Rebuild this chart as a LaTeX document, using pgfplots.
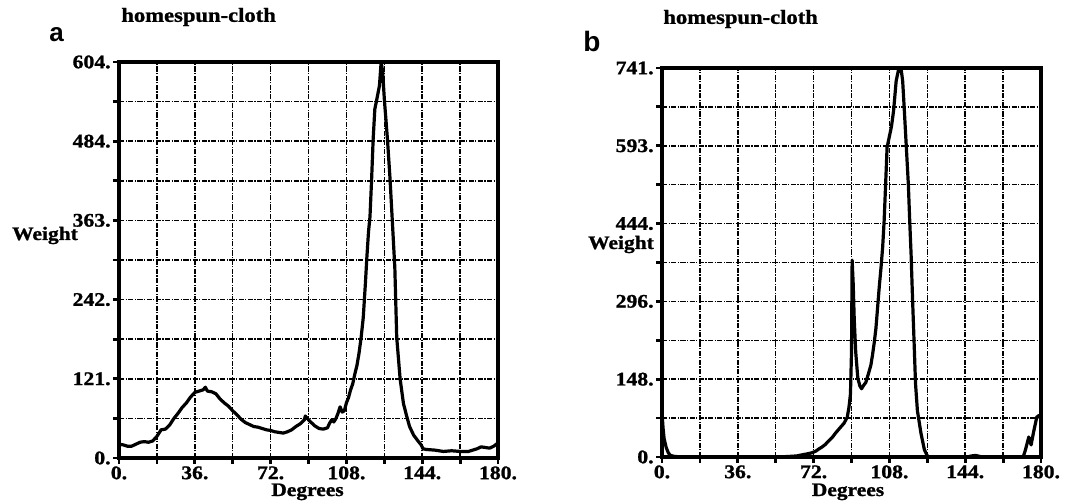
\documentclass[border=0pt]{standalone}
\usepackage{fontspec}
\setmainfont[FakeStretch=1.13, BoldFeatures={FakeBold=1.2}]{Liberation Serif}
\newfontfamily\sanslab{Liberation Sans}
\usepackage{pgfplots}
\pgfplotsset{compat=1.18}

\pgfplotsset{
  panel/.style={
    scale only axis, width=189.5pt,
    xmin=0, xmax=180,
    xtick={0,36,...,180}, xticklabels={0.,36.,72.,108.,144.,180.},
    minor xtick={18,54,90,126,162},
    grid=both,
    major grid style={black, line width=0.75pt, dash pattern=on 2.6pt off 0.7pt on 0.6pt off 0.7pt},
    minor grid style={black, line width=0.75pt, dash pattern=on 2.6pt off 0.7pt on 0.6pt off 0.7pt},
    axis line style={line width=1.6pt},
    tick pos=left, tick align=outside,
    major tick length=3pt, minor tick length=3pt,
    every tick/.style={black, line width=1.4pt},
    tick label style={font=\fontsize{9.6}{11}\selectfont\bfseries},
    xticklabel style={inner sep=1pt},
    yticklabel style={inner sep=1pt},
  },
  curve/.style={black, line width=1.6pt, line join=round},
}

\begin{document}
\begin{tikzpicture}
\useasboundingbox (0,0) rectangle (543pt,250.5pt);
\tikzset{lab/.style={inner sep=0pt, font=\fontsize{9.5}{11}\selectfont\bfseries}}

% panel a
\begin{axis}[panel, at={(59.5pt,21.5pt)}, anchor=south west, height=198pt,
  ymin=0, ymax=604,
  ytick={0,120.8,241.6,362.4,483.2,604}, yticklabels={0.,121.,242.,363.,484.,604.},
  minor ytick={60.4,181.2,302,422.8,543.6}]
\addplot[curve] coordinates {
(0,21) (2,20) (4,18) (6,18) (8,21) (10,24) (12,25) (14,24) (16,26) (18,33)
(19,38) (20,43) (22,44) (24,50) (26,60) (28,68) (30,77) (32,84) (34,93) (36,100)
(38,102) (40,104) (41,108) (42,102) (44,101) (46,98) (48,90) (50,84) (52,79) (54,72)
(56,66) (58,59) (60,54) (62,51) (64,48) (66,47) (68,45) (70,43) (72,42) (74,40)
(76,39) (78,38) (80,40) (82,43) (84,48) (86,52) (88,58) (88.5,64) (89.5,60) (91,55)
(93,49) (95,45) (97,44) (99,46) (100,53) (101,58) (102,55) (103,60) (104,68) (105,78)
(106,70) (107,72) (108,84) (109,92) (110,104) (111,113) (112,128) (113,141) (114,160) (115,184)
(116,214) (117,265) (117.7,305) (118.5,345) (119.2,368) (120,427) (120.7,486) (121.5,532) (122.5,548) (123.7,568)
(124.5,604) (125.2,590) (126,548) (127.5,486) (128.7,427) (129.7,368) (131,290) (131.9,184) (133.5,121) (135.1,83)
(136.7,63) (138,48) (139.9,35) (142,26) (143.5,20) (144.4,14) (146,13) (150,12) (154,10) (158,11)
(162,10) (166,10) (168,12) (170,14) (172,17) (174,16) (176,15) (178,18) (180,23)
};
\end{axis}

% panel b
\begin{axis}[panel, at={(331pt,22pt)}, anchor=south west, height=194.5pt,
  ymin=0, ymax=741,
  ytick={0,148.2,296.4,444.6,592.8,741}, yticklabels={0.,148.,296.,444.,593.,741.},
  minor ytick={74.1,222.3,370.5,518.7,666.9}]
\addplot[curve] coordinates {
(0,85) (0.5,55) (1,35) (2,18) (3,8) (4,3) (6,1) (10,0) (20,0) (40,0)
(55,0) (60,1) (64,2) (66.4,4) (69,6) (71.2,8) (73,11) (74.4,15) (76,19) (77.6,24)
(79,30) (80.8,37) (82.5,46) (84,53) (85.5,60) (86.4,64) (87.2,70) (88,76) (88.8,95) (89.5,120)
(90,200) (90.3,375) (90.8,330) (91.3,262) (92,200) (93,150) (94,135) (94.8,130) (95.5,135) (96.8,142)
(98,158) (99.2,175) (100,195) (100.8,218) (101.6,245) (102.4,285) (103.2,325) (104,360) (104.8,400) (105.5,450)
(106.2,519) (106.9,590) (107.8,607) (109,630) (110,660) (111.2,716) (112.5,741) (113.5,741) (114.3,716) (115,667)
(116,593) (117,519) (117.7,444) (118.3,386) (119,300) (119.8,210) (120.4,140) (121.3,88) (123,45) (124.6,14)
(126,2) (127,0) (145,0) (147,2) (149,3) (151,1) (153,0) (171.5,0) (172.5,12) (174.2,38)
(175.3,23) (176.5,48) (178,76) (179,79) (180,72)
};
\end{axis}

% titles and labels
\node[lab, anchor=west, font=\fontsize{10}{12}\selectfont\bfseries] at (60.5pt,242pt) {homespun-cloth};
\node[lab, anchor=west, font=\fontsize{10}{12}\selectfont\bfseries] at (331.5pt,241pt) {homespun-cloth};
\node[inner sep=0pt, font=\sanslab\bfseries\fontsize{13}{15}\selectfont] at (28.25pt,233pt) {a};
\node[inner sep=0pt, font=\sanslab\bfseries\fontsize{14}{16}\selectfont] at (296pt,229.5pt) {b};
\node[lab, anchor=base] at (22.5pt,130.5pt) {Weight};
\node[lab, anchor=base] at (310.5pt,126pt) {Weight};
\node[lab, anchor=base] at (153.75pt,2.5pt) {Degrees};
\node[lab, anchor=base] at (424pt,2.5pt) {Degrees};
\end{tikzpicture}
\end{document}
